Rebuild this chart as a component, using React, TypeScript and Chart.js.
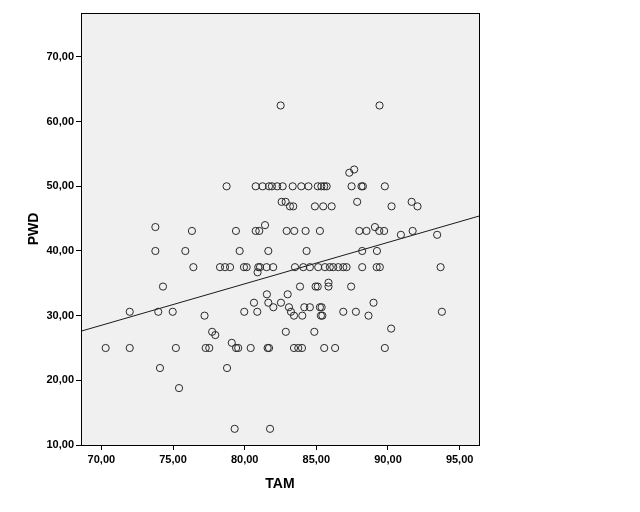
import React, { useEffect, useRef } from "react";
import { Chart, registerables } from "chart.js";

Chart.register(...registerables);

// TAM (x) values of each case
const tam = [
  82.51, 89.41, 87.3, 87.64,
  78.74, 80.77, 81.25, 81.7, 81.9, 82.27, 82.65, 83.35, 83.95, 84.45, 85.1, 85.35, 85.55, 85.72, 87.46, 88.15, 88.25, 89.78,
  82.58, 82.86, 87.85, 91.65,
  83.16, 83.39, 84.9, 85.48, 86.07, 90.25, 92.06,
  73.77, 89.09, 81.42,
  76.32, 79.39, 80.77, 81.02, 82.93, 83.46, 84.25, 85.25, 88.0, 88.5, 89.39, 89.73, 91.72,
  90.9, 93.43,
  73.77, 75.86, 79.65, 81.65, 84.32, 88.2, 89.23,
  76.42, 78.28, 78.63, 78.98, 79.95, 80.14, 80.95, 81.07, 81.53, 81.99, 83.51, 84.09, 84.55, 85.13, 85.6, 85.94, 86.18, 86.53, 86.88, 87.11, 88.2, 89.21, 89.43, 93.67,
  80.9,
  74.3, 83.86, 84.95, 85.1, 85.85, 87.43, 85.85,
  81.55, 83.0,
  80.65, 81.65, 82.53, 88.99,
  82.0, 83.09, 84.16, 84.55, 85.25, 85.37,
  71.98, 73.97, 74.98, 79.97, 80.88, 83.23, 86.88, 87.76, 93.76,
  77.2, 83.44, 84.02, 85.32, 85.42, 88.64,
  90.22,
  77.73, 82.87, 84.86,
  77.95,
  79.1,
  70.3, 71.98, 75.2, 77.28, 77.53, 79.4, 79.55, 80.42, 81.6, 81.7, 83.44, 83.74, 84.0, 85.55, 86.31, 89.78,
  74.09, 78.77,
  75.42,
  79.3, 81.77,
];

// PWD (y) values of each case, same order
const pwd = [
  62.5, 62.5, 52.1, 52.6,
  50, 50, 50, 50, 50, 50, 50, 50, 50, 50, 50, 50, 50, 50, 50, 50, 50, 50,
  47.6, 47.6, 47.6, 47.6,
  46.9, 46.9, 46.9, 46.9, 46.9, 46.9, 46.9,
  43.7, 43.7, 44.0,
  43.1, 43.1, 43.1, 43.1, 43.1, 43.1, 43.1, 43.1, 43.1, 43.1, 43.1, 43.1, 43.1,
  42.5, 42.5,
  40, 40, 40, 40, 40, 40, 40,
  37.5, 37.5, 37.5, 37.5, 37.5, 37.5, 37.5, 37.5, 37.5, 37.5, 37.5, 37.5, 37.5, 37.5, 37.5, 37.5, 37.5, 37.5, 37.5, 37.5, 37.5, 37.5, 37.5, 37.5,
  36.7,
  34.5, 34.5, 34.5, 34.5, 34.5, 34.5, 35.1,
  33.3, 33.3,
  32.0, 32.0, 32.0, 32.0,
  31.3, 31.3, 31.3, 31.3, 31.3, 31.3,
  30.6, 30.6, 30.6, 30.6, 30.6, 30.6, 30.6, 30.6, 30.6,
  30.0, 30.0, 30.0, 30.0, 30.0, 30.0,
  28.0,
  27.5, 27.5, 27.5,
  27.0,
  25.8,
  25, 25, 25, 25, 25, 25, 25, 25, 25, 25, 25, 25, 25, 25, 25, 25,
  21.9, 21.9,
  18.8,
  12.5, 12.5,
];

const xTickValues = [70, 75, 80, 85, 90, 95];
const yTickValues = [10, 20, 30, 40, 50, 60, 70];
const xRange = [68.58, 96.35];
const yRange = [10, 76.8];
// fitted line values at the two ends of the x range
const fitLineY = [27.6, 45.4];

const xTitle = "TAM";
const yTitle = "PWD";

const FONT = "'Liberation Sans', Arial, Helvetica, sans-serif";

const plotBackground = {
  id: "plotBackground",
  beforeDraw(chart: any) {
    const { ctx, chartArea } = chart;
    ctx.save();
    ctx.fillStyle = "#f0f0f0";
    ctx.fillRect(chartArea.left, chartArea.top, chartArea.right - chartArea.left, chartArea.bottom - chartArea.top);
    ctx.restore();
  },
  afterDraw(chart: any) {
    const { ctx, chartArea } = chart;
    ctx.save();
    ctx.strokeStyle = "#000";
    ctx.lineWidth = 1;
    ctx.strokeRect(
      Math.round(chartArea.left) + 0.5,
      Math.round(chartArea.top) + 0.5,
      Math.round(chartArea.right - chartArea.left),
      Math.round(chartArea.bottom - chartArea.top)
    );
    ctx.restore();
  },
};

const fmt = (v: number) => v.toFixed(2).replace(".", ",");

export default function App() {
  const ref = useRef<HTMLCanvasElement | null>(null);

  useEffect(() => {
    if (!ref.current) return;
    const points = tam.map((x, i) => ({ x, y: pwd[i] }));
    const fitPoints = xRange.map((x, i) => ({ x, y: fitLineY[i] }));

    const chart = new Chart(ref.current, {
      type: "scatter",
      data: {
        datasets: [
          {
            type: "line",
            data: fitPoints,
            borderColor: "#1a1a1a",
            borderWidth: 1,
            pointRadius: 0,
            fill: false,
            order: 2,
          } as any,
          {
            data: points,
            pointRadius: 3.6,
            pointBorderWidth: 1,
            pointBorderColor: "#2a2a2a",
            pointBackgroundColor: "rgba(0,0,0,0)",
            order: 1,
          },
        ],
      },
      options: {
        responsive: false,
        animation: false,
        layout: { padding: { left: 0, top: 13, right: 161, bottom: 0 } },
        plugins: {
          legend: { display: false },
          tooltip: { enabled: false },
        },
        scales: {
          x: {
            type: "linear",
            min: xRange[0],
            max: xRange[1],
            afterFit: (s: any) => {
              s.height = 67;
            },
            afterBuildTicks: (s: any) => {
              s.ticks = xTickValues.map((value) => ({ value }));
            },
            grid: {
              drawOnChartArea: false,
              drawTicks: true,
              tickLength: 5,
              color: "#000",
            },
            border: { display: true, color: "#000", width: 1 },
            ticks: {
              padding: 3,
              color: "#000",
              maxRotation: 0,
              font: { family: FONT, size: 11, weight: "bold" },
              callback: (v: any) => fmt(Number(v)),
            },
            title: {
              display: true,
              text: xTitle,
              color: "#000",
              font: { family: FONT, size: 14, weight: "bold" },
              padding: { top: 0, bottom: 19 },
            },
          },
          y: {
            type: "linear",
            min: yRange[0],
            max: yRange[1],
            afterFit: (s: any) => {
              s.width = 81;
            },
            afterBuildTicks: (s: any) => {
              s.ticks = yTickValues.map((value) => ({ value }));
            },
            grid: {
              drawOnChartArea: false,
              drawTicks: true,
              tickLength: 5,
              color: "#000",
            },
            border: { display: true, color: "#000", width: 1 },
            ticks: {
              padding: 2,
              color: "#000",
              font: { family: FONT, size: 11, weight: "bold" },
              callback: (v: any) => fmt(Number(v)),
            },
            title: {
              display: true,
              text: yTitle,
              color: "#000",
              font: { family: FONT, size: 14, weight: "bold" },
              padding: { top: 26, bottom: 0 },
            },
          },
        },
      },
      plugins: [plotBackground],
    });

    return () => chart.destroy();
  }, []);

  return (
    <div style={{ position: "absolute", left: 0, top: 0, width: 640, height: 512, background: "#fff" }}>
      <canvas ref={ref} width={640} height={512} />
    </div>
  );
}
